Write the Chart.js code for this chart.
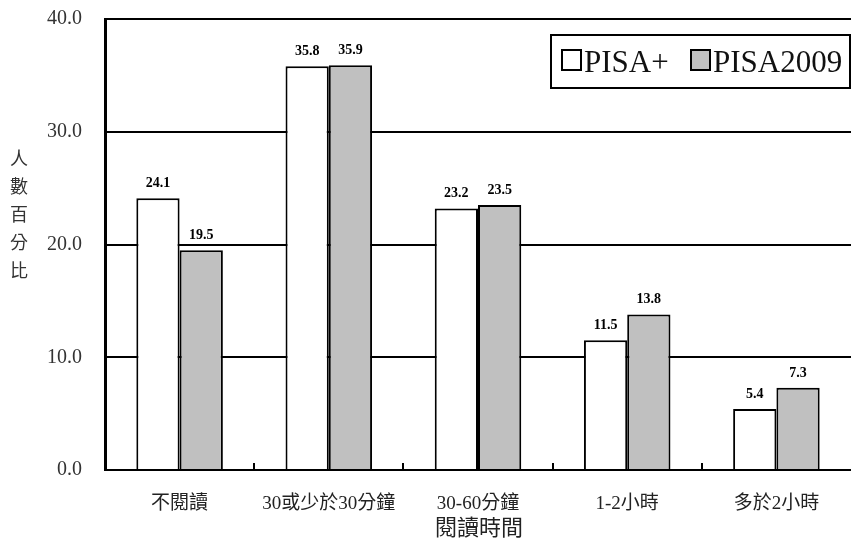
<!DOCTYPE html>
<html>
<head>
<meta charset="utf-8">
<script src="https://cdn.jsdelivr.net/npm/chart.js@4/dist/chart.umd.min.js"></script>
<style>
  html, body { margin: 0; padding: 0; background: #fff; }
  canvas { display: block; }
</style>
</head>
<body>
<canvas id="c" width="851" height="541"></canvas>
<script>
// Reading time categories and share of students (%)
const categories = ['不閱讀', '30或少於30分鐘', '30-60分鐘', '1-2小時', '多於2小時'];
const pisaPlus = [24.1, 35.8, 23.2, 11.5, 5.4];
const pisa2009 = [19.5, 35.9, 23.5, 13.8, 7.3];
const seriesNames = ['PISA+', 'PISA2009'];
const yTitle = '人數百分比';
const xTitle = '閱讀時間';

const serif = '"Liberation Serif", "DejaVu Serif", serif';
const cjk = '"Noto Sans CJK TC", "Noto Sans CJK SC", sans-serif';
const labelFont = serif + ', ' + cjk;

// Value labels above each bar, boundary ticks, axis titles and the framed legend
const decorations = {
  id: 'decorations',
  afterDatasetsDraw(chart) {
    const ctx = chart.ctx;
    const area = chart.chartArea;
    const xs = chart.scales.x;
    ctx.save();

    // category boundary ticks on the x axis
    ctx.strokeStyle = '#000';
    ctx.lineWidth = 2;
    const step = (area.right - area.left) / categories.length;
    for (let i = 1; i < categories.length; i++) {
      const bx = Math.round(xs.getPixelForValue(i) - step / 2);
      ctx.beginPath();
      ctx.moveTo(bx, area.bottom);
      ctx.lineTo(bx, area.bottom - 7);
      ctx.stroke();
    }

    // value labels
    ctx.fillStyle = '#000';
    ctx.font = 'bold 14px ' + serif;
    ctx.textAlign = 'center';
    ctx.textBaseline = 'alphabetic';
    chart.data.datasets.forEach((ds, di) => {
      chart.getDatasetMeta(di).data.forEach((bar, i) => {
        ctx.fillText(ds.data[i].toFixed(1), bar.x, bar.y - 11);
      });
    });

    // vertical y-axis title, one character per line
    ctx.font = '18px ' + cjk;
    ctx.fillStyle = '#333';
    ctx.textBaseline = 'middle';
    [...yTitle].forEach((ch, k) => {
      ctx.fillText(ch, 19, 158 + k * 28);
    });

    // x-axis title
    ctx.font = '22px ' + cjk;
    ctx.fillStyle = '#222';
    ctx.fillText(xTitle, (area.left + area.right) / 2 + 1, 527);

    // legend box
    const lx = 551, ly = 35, lw = 299, lh = 53;
    ctx.fillStyle = '#fff';
    ctx.fillRect(lx, ly, lw, lh);
    ctx.strokeStyle = '#000';
    ctx.lineWidth = 2;
    ctx.strokeRect(lx, ly, lw, lh);

    const items = [
      { x: 562, fill: chart.data.datasets[0].backgroundColor, text: seriesNames[0] },
      { x: 691, fill: chart.data.datasets[1].backgroundColor, text: seriesNames[1] }
    ];
    ctx.font = '31px ' + serif;
    ctx.textAlign = 'left';
    ctx.textBaseline = 'alphabetic';
    items.forEach(it => {
      ctx.fillStyle = it.fill;
      ctx.fillRect(it.x, 50, 19, 20);
      ctx.strokeRect(it.x, 50, 19, 20);
      ctx.fillStyle = '#111';
      ctx.fillText(it.text, it.x + 22, 72);
    });

    ctx.restore();
  }
};

new Chart(document.getElementById('c'), {
  type: 'bar',
  data: {
    labels: categories,
    datasets: [
      {
        label: seriesNames[0],
        data: pisaPlus,
        backgroundColor: '#ffffff',
        borderColor: '#000000',
        borderWidth: 2,
        categoryPercentage: 0.58,
        barPercentage: 1.0
      },
      {
        label: seriesNames[1],
        data: pisa2009,
        backgroundColor: '#c0c0c0',
        borderColor: '#000000',
        borderWidth: 2,
        categoryPercentage: 0.58,
        barPercentage: 1.0
      }
    ]
  },
  options: {
    responsive: false,
    animation: false,
    devicePixelRatio: 1,
    layout: { padding: { top: 19, right: 0, left: 0, bottom: 0 } },
    plugins: {
      legend: { display: false },
      tooltip: { enabled: false }
    },
    scales: {
      x: {
        grid: { display: false, drawTicks: false },
        border: { display: true, color: '#000', width: 2 },
        ticks: {
          color: '#222',
          font: { family: labelFont, size: 19 },
          padding: 23,
          maxRotation: 0,
          autoSkip: false
        },
        afterFit(scale) {
          scale.height = 71;
          scale.paddingLeft = 0;
          scale.paddingRight = 0;
        }
      },
      y: {
        min: 0,
        max: 40,
        grid: { color: '#000', lineWidth: 2, drawTicks: false },
        border: { display: true, color: '#000', width: 3 },
        ticks: {
          stepSize: 10,
          color: '#333',
          font: { family: serif, size: 20 },
          padding: 23,
          callback: v => Number(v).toFixed(1)
        },
        afterFit(scale) {
          scale.width = 105;
          scale.paddingTop = 0;
          scale.paddingBottom = 0;
        }
      }
    }
  },
  plugins: [decorations]
});
</script>
</body>
</html>
